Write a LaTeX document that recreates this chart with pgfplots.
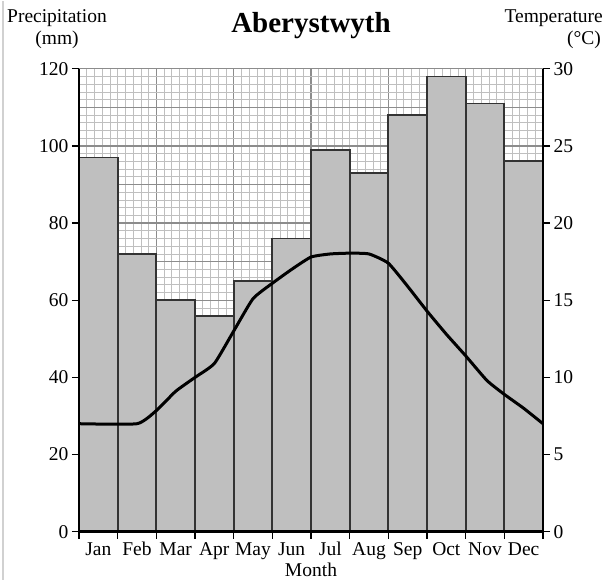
\documentclass[border=0pt]{standalone}
\usepackage{pgfplots}
\pgfplotsset{compat=1.18}
\usepackage{fontspec}
\setmainfont{Liberation Serif}

\begin{document}
\begin{tikzpicture}[font=\fontsize{19.5}{21}\selectfont]
\pgfplotsset{every axis/.append style={width=464pt,height=463pt,scale only axis,
  at={(0,0)}, anchor=south west, xmin=0, xmax=12,
  /pgf/number format/assume math mode=true}}
\path (-79pt,-48pt) rectangle (527pt,531pt);
\draw[black!18, line width=1.5pt] (-76pt,-48pt) -- (-76pt,531pt);
% grid
\begin{axis}[ymin=0, ymax=120,
  xtick={0,2,...,12}, minor x tick num=9,
  ytick={0,10,...,120}, minor y tick num=4,
  grid=both,
  major grid style={draw=black!45, line width=1.4pt},
  minor grid style={draw=black!25, line width=0.7pt},
  xticklabels={}, yticklabels={},
  major tick length=0pt, minor tick length=0pt,
  axis line style={draw=none}]
\addplot[draw=none] coordinates {(0,0)};
\end{axis}
% bars
\begin{axis}[ymin=0, ymax=120, axis on top,
  axis x line*=bottom, axis y line*=left,
  axis line style={line width=2.5pt, -},
  xtick={0,1,...,12}, x tick label as interval,
  xticklabels={Jan,Feb,Mar,Apr,May,Jun,Jul,Aug,Sep,Oct,Nov,Dec},
  ytick={0,20,...,120},
  tick align=outside, major tick length=7pt,
  tick style={black, line width=1.2pt},
  ]
\addplot[ybar, bar width=1, bar shift=0pt, fill=black!25, draw=black!80, line width=1.8pt]
  coordinates {(0.5,97) (1.5,72) (2.5,60) (3.5,56) (4.5,65) (5.5,76)
               (6.5,99) (7.5,93) (8.5,108) (9.5,118) (10.5,111) (11.5,96)};
\end{axis}
% temperature
\begin{axis}[ymin=0, ymax=30,
  axis y line*=right, axis x line=none,
  axis line style={line width=2.5pt, -},
  ytick={0,5,...,30},
  tick align=outside, major tick length=7pt,
  tick style={black, line width=1.2pt},
  ]
\addplot[black, line width=3pt, smooth, tension=0.3]
  coordinates {(0,7.0) (1.5,7.0) (2.0,7.85) (2.5,9.1) (3.0,10.0) (3.5,10.9)
               (4.0,13.0) (4.5,15.1) (5.0,16.1) (5.5,17.0) (6.0,17.8) (6.5,18.0) (7.0,18.05)
               (7.5,18.0) (8.0,17.4) (8.5,15.9) (9.0,14.3) (9.5,12.8) (10.0,11.4)
               (10.55,9.8) (11.0,8.9) (11.5,8.0) (12.0,7.0)};
\end{axis}
\node[anchor=base, font=\fontsize{29}{31}\selectfont\bfseries] at (232pt,499pt) {Aberystwyth};
\node[anchor=base] at (-22pt,509pt) {Precipitation};
\node[anchor=base] at (-22pt,487pt) {(mm)};
\node[anchor=base east, inner sep=0pt] at (524pt,509pt) {Temperature};
\node[anchor=base east, inner sep=0pt] at (522pt,487pt) {(°C)};
\node[anchor=base] at (232pt,-45pt) {Month};
\end{tikzpicture}
\end{document}
